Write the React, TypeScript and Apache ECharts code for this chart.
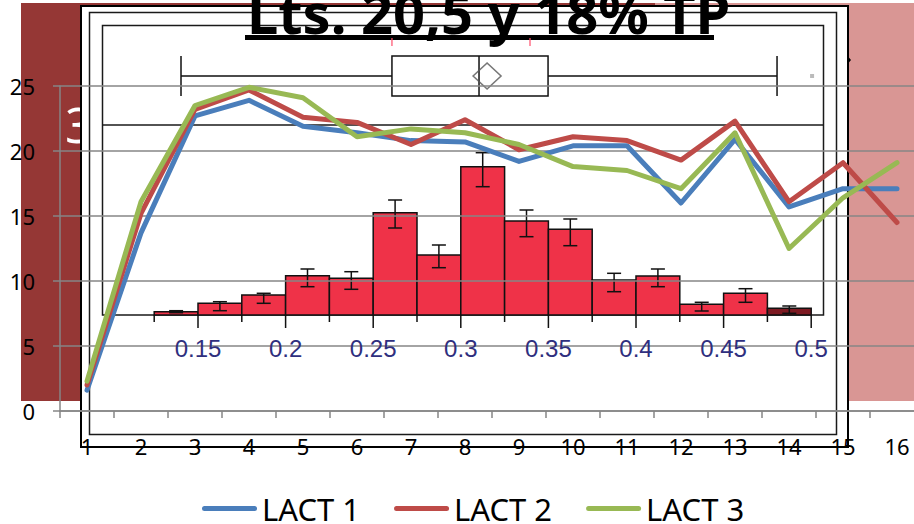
import React, { useEffect, useRef } from 'react';
import * as echarts from 'echarts';

// ---- main chart data ----
const categories = ['1', '2', '3', '4', '5', '6', '7', '8', '9', '10', '11', '12', '13', '14', '15', '16'];
const lact1 = [1.6, 13.7, 22.7, 23.9, 21.9, 21.4, 20.8, 20.7, 19.2, 20.4, 20.4, 16.0, 20.9, 15.7, 17.1, 17.1];
const lact2 = [2.0, 15.2, 23.2, 24.7, 22.6, 22.2, 20.5, 22.4, 20.1, 21.1, 20.8, 19.3, 22.3, 16.1, 19.1, 14.5];
const lact3 = [2.3, 16.1, 23.5, 24.9, 24.1, 21.1, 21.7, 21.4, 20.5, 18.8, 18.5, 17.1, 21.4, 12.5, 16.4, 19.1];
const seriesNames = ['LACT 1', 'LACT 2', 'LACT 3'];
const seriesColors = ['#4A7EBB', '#BE4B48', '#98B954'];
const yTicks = { min: 0, max: 25, step: 5 };

// ---- background picture: histogram + box plot ----
const titleText = 'Lts. 20,5 y 18% TP';
const binStarts = [0.125, 0.15, 0.175, 0.2, 0.225, 0.25, 0.275, 0.3, 0.325, 0.35, 0.375, 0.4, 0.425, 0.45, 0.475];
const binWidth = 0.025;
const binHeights = [0.33, 1.17, 2.0, 3.93, 3.67, 10.23, 6.0, 14.83, 9.4, 8.57, 3.5, 3.9, 1.07, 2.17, 0.67];
const errLow = [0.23, 0.43, 1.17, 2.83, 2.57, 8.7, 4.73, 12.83, 7.83, 6.93, 2.33, 2.83, 0.4, 1.27, 0.17];
const errHigh = [0.43, 1.33, 2.17, 4.6, 4.33, 11.5, 7.0, 16.23, 10.5, 9.6, 4.17, 4.6, 1.27, 2.63, 0.9];
const boxStats = [0.1403, 0.2607, 0.3104, 0.3498, 0.4805];
const boxMean = 0.315;
const boxOutliers = [0.5005];
const boxMarks = [0.2607, 0.3395];

const FONT = '"Noto Sans", "Open Sans", sans-serif';
const DARK_RED = '#953735';
const PINK = '#D99694';
const LEGEND_ICON = 'path://M2.5,0 H52.5 A2.5,2.5 0 0 1 52.5,5 H2.5 A2.5,2.5 0 0 1 2.5,0 Z';

const renderHist = (params: any, api: any) => {
  const start = api.value(0);
  const end = start + binWidth;
  const h = api.value(1);
  const lo = api.value(2);
  const hi = api.value(3);
  const b0 = api.coord([start, 0]);
  const t1 = api.coord([end, h]);
  const cx = (b0[0] + t1[0]) / 2;
  const yLo = api.coord([start, lo])[1];
  const yHi = api.coord([start, hi])[1];
  const last = params.dataIndex === binStarts.length - 1;
  const ls = { stroke: '#111', lineWidth: 1.5 };
  const tickLen = (v: number) => (Math.abs(v / 0.05 - Math.round(v / 0.05)) < 1e-6 ? 13 : 7);
  const children: any[] = [
    {
      type: 'rect',
      shape: { x: b0[0], y: t1[1], width: t1[0] - b0[0], height: b0[1] - t1[1] },
      style: { fill: last ? '#7d1a22' : '#EF3248', stroke: '#111', lineWidth: 1.5 },
    },
    { type: 'line', shape: { x1: cx, y1: yLo, x2: cx, y2: yHi }, style: ls },
    { type: 'line', shape: { x1: cx - 7, y1: yLo, x2: cx + 7, y2: yLo }, style: ls },
    { type: 'line', shape: { x1: cx - 7, y1: yHi, x2: cx + 7, y2: yHi }, style: ls },
    { type: 'line', shape: { x1: t1[0], y1: b0[1], x2: t1[0], y2: b0[1] + tickLen(end) }, style: ls },
  ];
  if (params.dataIndex === 0) {
    children.push({ type: 'line', shape: { x1: b0[0], y1: b0[1], x2: b0[0], y2: b0[1] + tickLen(start) }, style: ls });
  }
  return { type: 'group', children };
};

export default function App() {
  const ref = useRef<HTMLDivElement>(null);
  useEffect(() => {
    if (!ref.current) return;
    const chart = echarts.init(ref.current, null, { renderer: 'svg' });
    const frame = { stroke: '#1a1a1a', lineWidth: 1.5, fill: 'none' };
    const option: any = {
      animation: false,
      backgroundColor: '#fff',
      graphic: [
        { type: 'rect', z: -100, shape: { x: 21, y: 3, width: 634, height: 398 }, style: { fill: DARK_RED } },
        { type: 'rect', z: -100, shape: { x: 655, y: 3, width: 259, height: 398 }, style: { fill: PINK } },
        {
          type: 'text', z: -99, x: 65, y: 124,
          style: { text: '3', fill: '#fff', fontSize: 49, fontFamily: FONT, textAlign: 'left', textVerticalAlign: 'middle' },
        },
        { type: 'polygon', z: -99, shape: { points: [[845, 53], [851, 60], [845, 67]] }, style: { fill: '#000' } },
        { type: 'rect', z: -98, shape: { x: 81, y: 6, width: 767, height: 441 }, style: { fill: '#fff', stroke: '#000', lineWidth: 2 } },
        { type: 'rect', z: -97, shape: { x: 89.5, y: 12.5, width: 747, height: 422 }, style: frame },
        { type: 'rect', z: -97, shape: { x: 102.5, y: 25.5, width: 721, height: 289.5 }, style: frame },
        { type: 'line', z: -97, shape: { x1: 102.5, y1: 125, x2: 823.5, y2: 125 }, style: frame },
        {
          type: 'text', z: -96, x: 247, y: 12,
          style: { text: titleText, fill: '#000', fontSize: 56, fontWeight: 'bold', fontFamily: FONT, textAlign: 'left', textVerticalAlign: 'middle' },
        },
        { type: 'rect', z: -96, shape: { x: 245, y: 35, width: 469, height: 5 }, style: { fill: '#000' } },
      ],
      legend: {
        data: seriesNames,
        left: 197,
        top: 488,
        icon: LEGEND_ICON,
        itemWidth: 55,
        itemHeight: 5,
        itemGap: 34,
        textStyle: { fontSize: 31, lineHeight: 30, fontFamily: FONT, color: '#000' },
      },
      grid: [
        { left: 60, top: 86, width: 864, height: 325 },
        { left: 110.4, top: 125, width: 744.6, height: 190 },
        { left: 110.4, top: 26, width: 744.6, height: 100 },
      ],
      xAxis: [
        {
          type: 'category', gridIndex: 0, data: categories, boundaryGap: true,
          axisLine: { lineStyle: { color: '#868686', width: 1.5 } },
          axisTick: { show: true, length: 7, lineStyle: { color: '#868686', width: 1.5 } },
          axisLabel: { interval: 0, margin: 24, fontSize: 22, color: '#000', fontFamily: FONT },
          splitLine: { show: false },
        },
        {
          type: 'value', gridIndex: 1, min: 0.1, max: 0.525, interval: 0.05,
          axisLine: { show: false }, axisTick: { show: false }, splitLine: { show: false },
          axisLabel: {
            margin: 21, fontSize: 24, color: '#2f2f7e', fontFamily: '"Liberation Sans", Arial, sans-serif',
            formatter: (v: number) => (v > 0.149 && v < 0.501 ? String(Number(v.toFixed(2))) : ''),
          },
        },
        { type: 'value', gridIndex: 2, min: 0.1, max: 0.525, show: false },
      ],
      yAxis: [
        {
          type: 'value', gridIndex: 0, min: yTicks.min, max: yTicks.max, interval: yTicks.step,
          axisLine: { show: true, lineStyle: { color: '#868686', width: 1.5 } },
          axisTick: { show: true, length: 7, lineStyle: { color: '#868686', width: 1.5 } },
          splitLine: { show: true, lineStyle: { color: '#868686', width: 1.5 } },
          axisLabel: { margin: 25, fontSize: 22, color: '#000', fontFamily: FONT },
        },
        { type: 'value', gridIndex: 1, min: 0, max: 19, show: false },
        { type: 'category', gridIndex: 2, data: ['box'], show: false },
      ],
      series: [
        {
          type: 'custom', name: 'hist', xAxisIndex: 1, yAxisIndex: 1, z: -5, silent: true, clip: false,
          data: binStarts.map((s, i) => [s, binHeights[i], errLow[i], errHigh[i]]),
          renderItem: renderHist,
        },
        {
          type: 'boxplot', name: 'box', xAxisIndex: 2, yAxisIndex: 2, z: -5, silent: true,
          boxWidth: [40, 40],
          itemStyle: { color: '#fff', borderColor: '#111', borderWidth: 1.5 },
          data: [boxStats],
        },
        {
          type: 'scatter', name: 'mean', xAxisIndex: 2, yAxisIndex: 2, z: -4, silent: true,
          symbol: 'diamond', symbolSize: [28, 26],
          itemStyle: { color: 'rgba(0,0,0,0)', borderColor: '#555', borderWidth: 1.5 },
          data: [[boxMean, 0]],
        },
        {
          type: 'scatter', name: 'outlier', xAxisIndex: 2, yAxisIndex: 2, z: -4, silent: true,
          symbol: 'rect', symbolSize: 4, itemStyle: { color: '#aaa' },
          data: boxOutliers.map((v) => [v, 0]),
        },
        {
          type: 'scatter', name: 'marks', xAxisIndex: 2, yAxisIndex: 2, z: -4, silent: true,
          symbol: 'rect', symbolSize: [1.5, 8], symbolOffset: [0, -34], itemStyle: { color: '#ff4d6a' },
          data: boxMarks.map((v) => [v, 0]),
        },
        ...[lact1, lact2, lact3].map((d, i) => ({
          type: 'line', name: seriesNames[i], xAxisIndex: 0, yAxisIndex: 0, z: 10,
          data: d, symbol: 'none', color: seriesColors[i],
          lineStyle: { width: 5, color: seriesColors[i], join: 'round', cap: 'round' },
        })),
      ],
    };
    chart.setOption(option);
    return () => chart.dispose();
  }, []);
  return (
    <div style={{ position: 'absolute', left: 0, top: 0, width: 914, height: 524, overflow: 'hidden' }}>
      <div ref={ref} style={{ position: 'absolute', left: 0, top: 0, width: 940, height: 524 }} />
    </div>
  );
}
